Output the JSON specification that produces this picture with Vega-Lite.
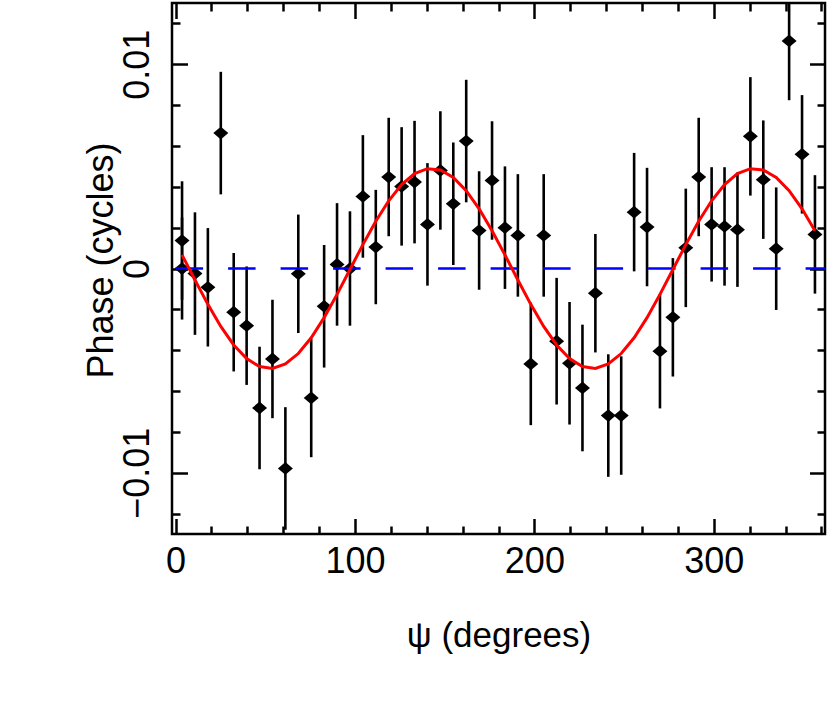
{
  "$schema": "https://vega.github.io/schema/vega-lite/v6.json",
  "width": 653,
  "height": 531,
  "autosize": {"type": "none"},
  "padding": {"left": 172, "top": 3, "right": 5, "bottom": 175},
  "background": "white",
  "config": {
    "view": {"stroke": "black", "strokeWidth": 2.5},
    "axis": {"domain": false, "grid": false, "tickColor": "black", "tickWidth": 2.5, "labelColor": "black", "titleColor": "black", "labelFont": "Liberation Sans", "titleFont": "Liberation Sans", "titleFontWeight": "normal"}
  },
  "datasets": {
    "pts": [
      {"psi": 3.6, "phase": 0.00137, "err": 0.0029},
      {"psi": 3.6, "phase": 0.0, "err": 0.0025},
      {"psi": 10.8, "phase": -0.00025, "err": 0.0030},
      {"psi": 18.0, "phase": -0.00092, "err": 0.0029},
      {"psi": 25.2, "phase": 0.00663, "err": 0.0030},
      {"psi": 32.4, "phase": -0.00214, "err": 0.0029},
      {"psi": 39.6, "phase": -0.0028, "err": 0.0029},
      {"psi": 46.8, "phase": -0.00683, "err": 0.0030},
      {"psi": 54.0, "phase": -0.00443, "err": 0.0029},
      {"psi": 61.2, "phase": -0.00979, "err": 0.0030},
      {"psi": 68.4, "phase": -0.00026, "err": 0.0029},
      {"psi": 75.6, "phase": -0.00634, "err": 0.0029},
      {"psi": 82.8, "phase": -0.00185, "err": 0.0030},
      {"psi": 90.0, "phase": 0.0002, "err": 0.0030},
      {"psi": 97.2, "phase": 0.0, "err": 0.0028},
      {"psi": 104.4, "phase": 0.00353, "err": 0.0030},
      {"psi": 111.6, "phase": 0.00105, "err": 0.0028},
      {"psi": 118.8, "phase": 0.00448, "err": 0.0029},
      {"psi": 126.0, "phase": 0.00402, "err": 0.0029},
      {"psi": 133.2, "phase": 0.00423, "err": 0.0030},
      {"psi": 140.4, "phase": 0.00216, "err": 0.0030},
      {"psi": 147.6, "phase": 0.0048, "err": 0.0029},
      {"psi": 154.8, "phase": 0.00317, "err": 0.0030},
      {"psi": 162.0, "phase": 0.00624, "err": 0.0030},
      {"psi": 169.2, "phase": 0.00186, "err": 0.0029},
      {"psi": 176.4, "phase": 0.00431, "err": 0.0029},
      {"psi": 183.6, "phase": 0.0020, "err": 0.0030},
      {"psi": 190.8, "phase": 0.00162, "err": 0.0030},
      {"psi": 198.0, "phase": -0.00467, "err": 0.0030},
      {"psi": 205.2, "phase": 0.00162, "err": 0.0030},
      {"psi": 212.4, "phase": -0.00356, "err": 0.0031},
      {"psi": 219.6, "phase": -0.00464, "err": 0.0030},
      {"psi": 226.8, "phase": -0.00585, "err": 0.0031},
      {"psi": 234.0, "phase": -0.00121, "err": 0.0029},
      {"psi": 241.2, "phase": -0.0072, "err": 0.0030},
      {"psi": 248.4, "phase": -0.0072, "err": 0.0029},
      {"psi": 255.6, "phase": 0.00276, "err": 0.0029},
      {"psi": 262.8, "phase": 0.00203, "err": 0.0029},
      {"psi": 270.0, "phase": -0.00405, "err": 0.0028},
      {"psi": 277.2, "phase": -0.00239, "err": 0.0029},
      {"psi": 284.4, "phase": 0.00101, "err": 0.0029},
      {"psi": 291.6, "phase": 0.00448, "err": 0.0029},
      {"psi": 298.8, "phase": 0.00216, "err": 0.0028},
      {"psi": 306.0, "phase": 0.00206, "err": 0.0029},
      {"psi": 313.2, "phase": 0.0019, "err": 0.0028},
      {"psi": 320.4, "phase": 0.00647, "err": 0.0029},
      {"psi": 327.6, "phase": 0.00435, "err": 0.0029},
      {"psi": 334.8, "phase": 0.00097, "err": 0.0030},
      {"psi": 342.0, "phase": 0.01114, "err": 0.0029},
      {"psi": 349.2, "phase": 0.00559, "err": 0.0029},
      {"psi": 356.4, "phase": 0.00167, "err": 0.0029}
    ],
    "fit": [
      {"psi": 3.6, "phase": 0.000665}, {"psi": 10.8, "phase": -0.000563}, {"psi": 18.0, "phase": -0.001756},
      {"psi": 25.2, "phase": -0.002839}, {"psi": 32.4, "phase": -0.003743}, {"psi": 39.6, "phase": -0.004411},
      {"psi": 46.8, "phase": -0.004803}, {"psi": 54.0, "phase": -0.004893}, {"psi": 61.2, "phase": -0.004676},
      {"psi": 68.4, "phase": -0.004164}, {"psi": 75.6, "phase": -0.003391}, {"psi": 82.8, "phase": -0.002405},
      {"psi": 90.0, "phase": -0.001268}, {"psi": 97.2, "phase": -0.000051}, {"psi": 104.4, "phase": 0.001169},
      {"psi": 111.6, "phase": 0.002316}, {"psi": 118.8, "phase": 0.003317}, {"psi": 126.0, "phase": 0.004110},
      {"psi": 133.2, "phase": 0.004644}, {"psi": 140.4, "phase": 0.004887}, {"psi": 147.6, "phase": 0.004823},
      {"psi": 154.8, "phase": 0.004455}, {"psi": 162.0, "phase": 0.003808}, {"psi": 169.2, "phase": 0.002921},
      {"psi": 176.4, "phase": 0.001851}, {"psi": 183.6, "phase": 0.000665}, {"psi": 190.8, "phase": -0.000563},
      {"psi": 198.0, "phase": -0.001756}, {"psi": 205.2, "phase": -0.002839}, {"psi": 212.4, "phase": -0.003743},
      {"psi": 219.6, "phase": -0.004411}, {"psi": 226.8, "phase": -0.004803}, {"psi": 234.0, "phase": -0.004893},
      {"psi": 241.2, "phase": -0.004676}, {"psi": 248.4, "phase": -0.004164}, {"psi": 255.6, "phase": -0.003391},
      {"psi": 262.8, "phase": -0.002405}, {"psi": 270.0, "phase": -0.001268}, {"psi": 277.2, "phase": -0.000051},
      {"psi": 284.4, "phase": 0.001169}, {"psi": 291.6, "phase": 0.002316}, {"psi": 298.8, "phase": 0.003317},
      {"psi": 306.0, "phase": 0.004110}, {"psi": 313.2, "phase": 0.004644}, {"psi": 320.4, "phase": 0.004887},
      {"psi": 327.6, "phase": 0.004823}, {"psi": 334.8, "phase": 0.004455}, {"psi": 342.0, "phase": 0.003808},
      {"psi": 349.2, "phase": 0.002921}, {"psi": 356.4, "phase": 0.001851}
    ]
  },
  "layer": [
    {
      "data": {"name": "pts"},
      "mark": {"type": "errorbar", "thickness": 2.6, "color": "black", "clip": true},
      "encoding": {
        "x": {
          "field": "psi", "type": "quantitative",
          "scale": {"domain": [-2, 362], "nice": false, "zero": false},
          "axis": {
            "orient": "bottom",
            "values": [0, 20, 40, 60, 80, 100, 120, 140, 160, 180, 200, 220, 240, 260, 280, 300, 320, 340, 360],
            "tickSize": {"condition": {"test": "datum.value % 100 === 0", "value": -15.5}, "value": -8},
            "labelExpr": "datum.value % 100 === 0 ? datum.label : ''",
            "labelFontSize": 36, "labelPadding": 25.9, "labelFlush": false, "labelOverlap": false,
            "title": "ψ (degrees)", "titleFontSize": 35, "titleBaseline": "alphabetic", "titleY": 112
          }
        },
        "y": {
          "field": "phase", "type": "quantitative",
          "scale": {"domain": [-0.013, 0.013], "nice": false, "zero": false},
          "axis": {
            "orient": "left",
            "values": [-0.012, -0.01, -0.008, -0.006, -0.004, -0.002, 0, 0.002, 0.004, 0.006, 0.008, 0.01, 0.012],
            "tickSize": {"condition": {"test": "abs(datum.value) < 1e-9 || abs(abs(datum.value) - 0.01) < 1e-9", "value": -15.5}, "value": -8},
            "labelExpr": "abs(datum.value) < 1e-9 ? '0' : abs(datum.value - 0.01) < 1e-9 ? '0.01' : abs(datum.value + 0.01) < 1e-9 ? '−0.01' : ''",
            "labelAngle": -90, "labelAlign": "center", "labelBaseline": "alphabetic",
            "labelFontSize": 36, "labelPadding": 39.2, "labelFlush": false, "labelOverlap": false,
            "title": "Phase (cycles)", "titleFontSize": 36, "titleAngle": -90, "titleAlign": "center",
            "titleBaseline": "alphabetic", "titleX": -60, "titleY": 257
          }
        },
        "yError": {"field": "err"}
      }
    },
    {
      "data": {"name": "pts"},
      "mark": {"type": "point", "shape": "M-1,0L0,-0.85L1,0L0,0.85Z", "size": 225, "filled": true, "color": "black", "opacity": 1, "strokeWidth": 0},
      "encoding": {
        "x": {
          "field": "psi", "type": "quantitative",
          "axis": {
            "orient": "top",
            "values": [0, 20, 40, 60, 80, 100, 120, 140, 160, 180, 200, 220, 240, 260, 280, 300, 320, 340, 360],
            "tickSize": {"condition": {"test": "datum.value % 100 === 0", "value": -15.5}, "value": -8},
            "labels": false, "title": null
          }
        },
        "y": {
          "field": "phase", "type": "quantitative",
          "axis": {
            "orient": "right",
            "values": [-0.012, -0.01, -0.008, -0.006, -0.004, -0.002, 0, 0.002, 0.004, 0.006, 0.008, 0.01, 0.012],
            "tickSize": {"condition": {"test": "abs(datum.value) < 1e-9 || abs(abs(datum.value) - 0.01) < 1e-9", "value": -15.5}, "value": -8},
            "labels": false, "title": null
          }
        }
      }
    },
    {
      "data": {"values": [{}]},
      "mark": {"type": "rule", "color": "#0000ff", "strokeWidth": 2.7, "strokeDash": [27.5, 25], "clip": true},
      "encoding": {
        "x": {"datum": 0, "type": "quantitative", "axis": null},
        "x2": {"datum": 362},
        "y": {"datum": 0, "type": "quantitative", "axis": null}
      }
    },
    {
      "data": {"name": "fit"},
      "mark": {"type": "line", "color": "#ff0000", "strokeWidth": 3, "clip": true},
      "encoding": {
        "x": {"field": "psi", "type": "quantitative", "axis": null},
        "y": {"field": "phase", "type": "quantitative", "axis": null}
      }
    }
  ],
  "resolve": {"axis": {"x": "independent", "y": "independent"}}
}
